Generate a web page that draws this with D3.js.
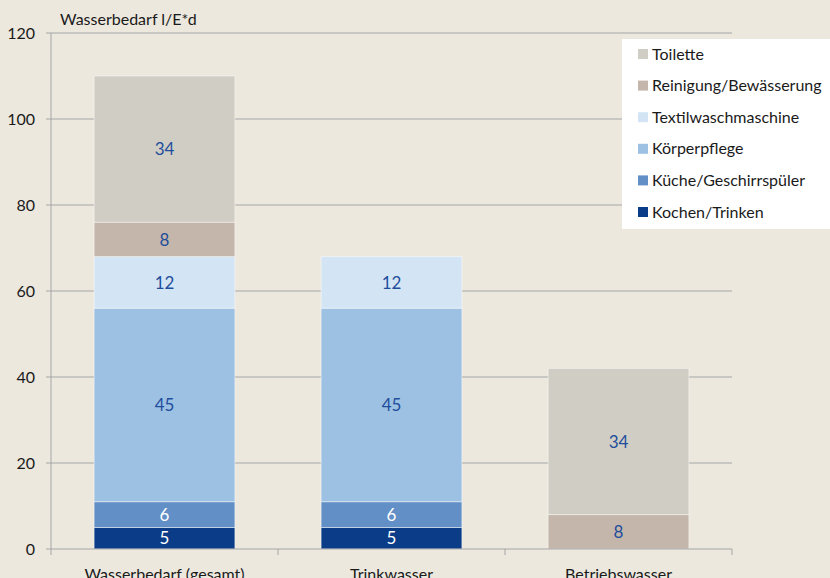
<!DOCTYPE html>
<html>
<head>
<meta charset="utf-8">
<script src="https://cdn.jsdelivr.net/npm/d3@7"></script>
<style>
  body { margin: 0; background: #ece8de; }
  svg { display: block; font-family: Lato, "Open Sans", sans-serif; }
</style>
</head>
<body>
<div id="chart"></div>
<script>
(function(){

    var categories = ["Wasserbedarf (gesamt)", "Trinkwasser", "Betriebswasser"];
    var seriesNames = ["Kochen/Trinken", "Küche/Geschirrspüler", "Körperpflege",
                       "Textilwaschmaschine", "Reinigung/Bewässerung", "Toilette"];
    var kochen   = [5, 5, 0];
    var kueche   = [6, 6, 0];
    var koerper  = [45, 45, 0];
    var textil   = [12, 12, 0];
    var reinig   = [8, 0, 8];
    var toilette = [34, 0, 34];
    var yTicks = [0, 20, 40, 60, 80, 100, 120];

    var values = [kochen, kueche, koerper, textil, reinig, toilette];
    var colors = ["#0a3c87", "#628fc6", "#9dc1e3", "#d3e5f5", "#c4b6aa", "#d0cdc5"];
    var labelColors = ["#ffffff", "#ffffff", "#1f4e9c", "#1f4e9c", "#1f4e9c", "#1f4e9c"];

    var width = 830, height = 578;
    var left = 51, right = 732, top = 33, bottom = 549;

    var svg = d3.select("#chart")
                .append("svg")
                .attr("width", width)
                .attr("height", height);

    svg.append("rect").attr("width", width).attr("height", height).attr("fill", "#ece8de");

    var x = d3.scaleBand().domain(categories).range([left, right]).paddingInner(0.38).paddingOuter(0.19);
    var y = d3.scaleLinear().domain([0, 120]).range([bottom, top]);

    // gridlines
    svg.append("g").selectAll("line")
        .data(yTicks.filter(function(d){ return d > 0; }))
        .enter().append("line")
        .attr("x1", left - 5).attr("x2", right)
        .attr("y1", function(d){ return y(d); })
        .attr("y2", function(d){ return y(d); })
        .attr("stroke", "#a6a6a6").attr("stroke-width", 1);

    // stacked data
    var table = categories.map(function(c, i){
        var row = {cat: c};
        seriesNames.forEach(function(s, j){ row[s] = values[j][i]; });
        return row;
    });
    var stack = d3.stack().keys(seriesNames)(table);

    var layers = svg.append("g").selectAll("g")
        .data(stack).enter().append("g")
        .attr("fill", function(d, i){ return colors[i]; });

    layers.selectAll("rect")
        .data(function(d){ return d.filter(function(p){ return p[1] - p[0] > 0; }); })
        .enter().append("rect")
        .attr("x", function(d){ return x(d.data.cat); })
        .attr("width", x.bandwidth())
        .attr("y", function(d){ return y(d[1]); })
        .attr("height", function(d){ return y(d[0]) - y(d[1]); })
        .attr("stroke", "rgba(255,255,255,0.45)")
        .attr("stroke-width", 1);

    layers.each(function(layer, i){
        d3.select(this).selectAll("text")
            .data(layer.filter(function(p){ return p[1] - p[0] > 0; }))
            .enter().append("text")
            .attr("x", function(d){ return x(d.data.cat) + x.bandwidth() / 2; })
            .attr("y", function(d){ return (y(d[0]) + y(d[1])) / 2; })
            .attr("dy", "0.36em")
            .attr("text-anchor", "middle")
            .attr("fill", labelColors[i])
            .attr("font-size", 17)
            .text(function(d){ return d[1] - d[0]; });
    });

    // axes
    svg.append("line").attr("x1", left).attr("x2", left).attr("y1", top).attr("y2", bottom)
        .attr("stroke", "#a6a6a6");
    svg.append("line").attr("x1", left - 5).attr("x2", right).attr("y1", bottom).attr("y2", bottom)
        .attr("stroke", "#a6a6a6");

    svg.append("g").selectAll("text")
        .data(yTicks).enter().append("text")
        .attr("x", left - 16).attr("y", function(d){ return y(d); })
        .attr("dy", "0.35em").attr("text-anchor", "end")
        .attr("font-size", 16).attr("fill", "#1a1a1a")
        .text(function(d){ return d; });

    var sep = categories.map(function(c){ return x(c) - x.step() * x.paddingInner() / 2; });
    sep.push(right);
    sep[0] = left;
    svg.append("g").selectAll("line")
        .data(sep).enter().append("line")
        .attr("x1", function(d){ return d; }).attr("x2", function(d){ return d; })
        .attr("y1", bottom).attr("y2", bottom + 6)
        .attr("stroke", "#a6a6a6");

    svg.append("g").selectAll("text")
        .data(categories).enter().append("text")
        .attr("x", function(d){ return x(d) + x.bandwidth() / 2; })
        .attr("y", bottom + 31)
        .attr("text-anchor", "middle")
        .attr("font-size", 16).attr("fill", "#1a1a1a")
        .text(function(d){ return d; });

    svg.append("text").attr("x", 60).attr("y", 25)
        .attr("font-size", 16).attr("fill", "#1a1a1a")
        .text("Wasserbedarf l/E*d");

    // legend
    svg.append("rect").attr("x", 622).attr("y", 39).attr("width", 208).attr("height", 190)
        .attr("fill", "#ffffff");

    var legendOrder = seriesNames.slice().reverse();
    var legend = svg.selectAll(".legend")
        .data(legendOrder).enter().append("g")
        .attr("class", "legend")
        .attr("transform", function(d, i){ return "translate(638," + (54 + i * 31.6) + ")"; });

    legend.append("rect")
        .attr("x", 0).attr("y", -5).attr("width", 10).attr("height", 10)
        .attr("fill", function(d){ return colors[seriesNames.indexOf(d)]; });

    legend.append("text")
        .attr("x", 14).attr("dy", "0.35em")
        .attr("font-size", 16).attr("fill", "#1a1a1a")
        .text(function(d){ return d; });

})();
</script>
</body>
</html>
